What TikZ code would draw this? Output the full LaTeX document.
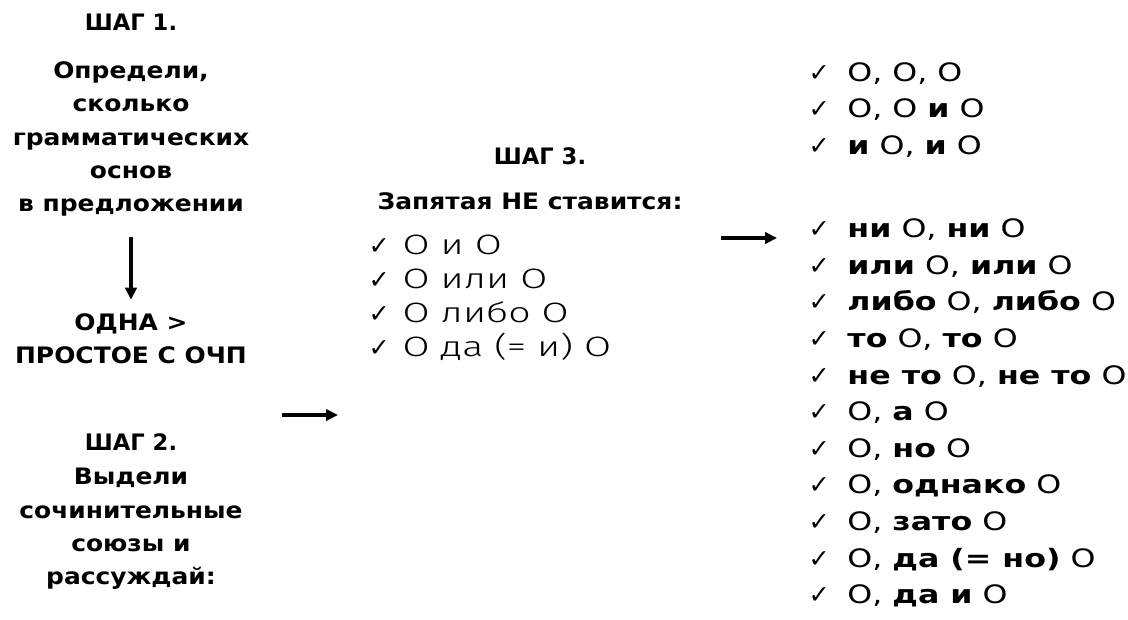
\documentclass[tikz,border=0pt]{standalone}
\usepackage{fontspec}
\setmainfont{DejaVu Sans}
\newfontfamily\checkfont{DejaVu Sans}
\newfontfamily\widefont{DejaVu Sans}[FakeStretch=1.1]
\newfontfamily\listfont{DejaVu Sans}[FakeStretch=1.25]
\newfontfamily\thinfont{Fira Sans Light}[FakeStretch=1.4]
\usepackage{tikz}
\usetikzlibrary{arrows.meta, positioning}
\newcommand{\tick}[1][29pt]{\makebox[#1][l]{\checkfont\fontsize{19}{19}\selectfont ✓}}

\begin{document}
\begin{tikzpicture}[x=0.75pt, y=-0.75pt,
    head/.style={font=\fontsize{17}{25}\selectfont\bfseries, align=center},
    task/.style={font=\widefont\fontsize{17}{25}\selectfont\bfseries, align=center},
    nolist/.style={anchor=west, align=left, font=\thinfont\fontsize{21}{25.5}\selectfont},
    yeslist/.style={anchor=west, align=left, font=\listfont\fontsize{19}{27.45}\selectfont},
    arrow/.style={-{Triangle[length=9pt, width=8.5pt]}, line width=2.5pt}
]
    \useasboundingbox (0,0) rectangle (1128,619);

    % Step 1
    \node[head] (step1) at (131,22) {ШАГ 1.};
    \node[task] (task1) at (131,139) {Определи,\\сколько\\грамматических\\основ\\в предложении};
    \node[task] (one) at (131,339) {ОДНА >\\ПРОСТОЕ С ОЧП};

    % Step 2
    \node[head] (step2) at (131,442) {ШАГ 2.};
    \node[task] (task2) at (131,529) {Выдели\\сочинительные\\союзы и\\рассуждай:};

    % Step 3
    \node[head] (step3) at (540,156) {ШАГ 3.};
    \node[task] (rule3) at (530,201) {Запятая НЕ ставится:};
    \node[nolist] (nocomma) at (364,298) {\tick[25.5pt]О и О\\\tick[25.5pt]О или О\\\tick[25.5pt]О либо О\\\tick[25.5pt]О да (= и) О};

    % Comma lists
    \node[yeslist] (comma1) at (804,110) {\tick О, О, О\\\tick О, О \textbf{и} О\\\tick \textbf{и} О, \textbf{и} О};
    \node[yeslist] (comma2) at (804,413) {\tick \textbf{ни} О, \textbf{ни} О\\
        \tick \textbf{или} О, \textbf{или} О\\
        \tick \textbf{либо} О, \textbf{либо} О\\
        \tick \textbf{то} О, \textbf{то} О\\
        \tick \textbf{не то} О, \textbf{не то} О\\
        \tick О, \textbf{а} О\\
        \tick О, \textbf{но} О\\
        \tick О, \textbf{однако} О\\
        \tick О, \textbf{зато} О\\
        \tick О, \textbf{да (= но)} О\\
        \tick О, \textbf{да и} О};

    % Arrows
    \coordinate (go2) at (282,415);
    \coordinate (to3) at (338,415);
    \coordinate (go4) at (721,238);
    \coordinate (to4) at (777,238);
    \draw[arrow] ([yshift=-12pt]task1.south) -- ([yshift=7pt]one.north);
    \draw[arrow] (go2) -- (to3);
    \draw[arrow] (go4) -- (to4);
\end{tikzpicture}
\end{document}
